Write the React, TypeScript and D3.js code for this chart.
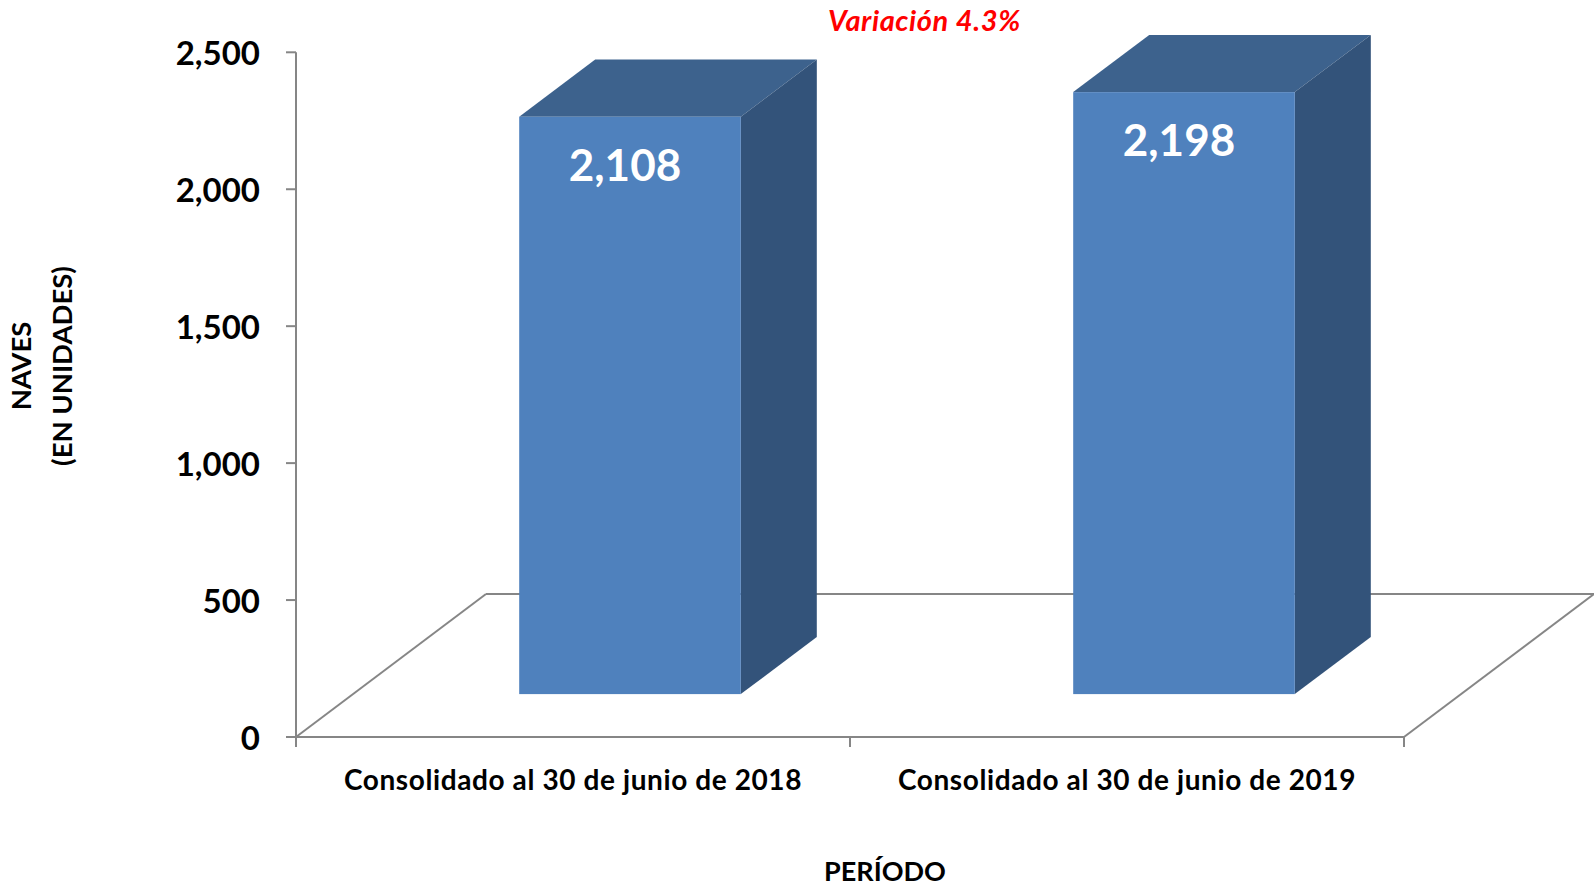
import React from "react";
import * as d3 from "d3";

const categories = ["Consolidado al 30 de junio de 2018", "Consolidado al 30 de junio de 2019"];
const values = [2108, 2198];
const valueLabels = ["2,108", "2,198"];
const yTicks = [0, 500, 1000, 1500, 2000, 2500];
const annotation = "Variación 4.3%";
const yTitle = ["NAVES", "(EN UNIDADES)"];
const xTitle = "PERÍODO";

const W = 1594;
const H = 885;
const FONT = "Lato, 'Open Sans', sans-serif";

export default function App() {
  const left = 296;
  const right = 1404;
  const bottom = 737;
  const top = 52.3;
  const depthX = 190;
  const depthY = 143;
  const d0 = 0.3;
  const d1 = 0.7;

  const x = d3.scaleBand<string>().domain(categories).range([left, right]).paddingInner(0).paddingOuter(0);
  const y = d3.scaleLinear().domain([0, 2500]).range([bottom, top]);
  const bw = x.bandwidth() * 0.4;
  const fmt = d3.format(",");

  const axisColor = "#868686";

  return (
    <svg width={W} height={H} style={{ position: "absolute", left: 0, top: 0, background: "#fff" }}>
      {/* floor */}
      <g stroke={axisColor} strokeWidth={2} fill="none">
        <line x1={left + depthX} y1={bottom - depthY} x2={right + depthX} y2={bottom - depthY} />
        <line x1={left} y1={bottom} x2={left + depthX} y2={bottom - depthY} />
        <line x1={right} y1={bottom} x2={right + depthX} y2={bottom - depthY} />
        <line x1={left} y1={bottom} x2={right} y2={bottom} />
        <line x1={left} y1={bottom} x2={left} y2={top} />
        {yTicks.map((t) => (
          <line key={t} x1={left - 10} x2={left} y1={y(t)} y2={y(t)} />
        ))}
        {[...categories.map((c) => x(c)!), right].map((px, i) => (
          <line key={i} x1={px} x2={px} y1={bottom} y2={bottom + 10} />
        ))}
      </g>
      {/* y tick labels */}
      {yTicks.map((t) => (
        <text key={t} x={left - 36} y={y(t)} textAnchor="end" dominantBaseline="central"
          fontFamily={FONT} fontWeight="bold" fontSize={33} fill="#000">{fmt(t)}</text>
      ))}
      {/* bars */}
      {categories.map((c, i) => {
        const cx = x(c)! + x.bandwidth() / 2;
        const fx0 = cx - bw / 2 + d0 * depthX;
        const fx1 = fx0 + bw;
        const fyTop = y(values[i]) - d0 * depthY;
        const fyBot = y(0) - d0 * depthY;
        const ddx = (d1 - d0) * depthX;
        const ddy = (d1 - d0) * depthY;
        return (
          <g key={c}>
            <polygon points={`${fx0},${fyTop} ${fx0 + ddx},${fyTop - ddy} ${fx1 + ddx},${fyTop - ddy} ${fx1},${fyTop}`} fill="#3D628D" />
            <polygon points={`${fx1},${fyTop} ${fx1 + ddx},${fyTop - ddy} ${fx1 + ddx},${fyBot - ddy} ${fx1},${fyBot}`} fill="#33537A" />
            <rect x={fx0} y={fyTop} width={bw} height={fyBot - fyTop} fill="#4F81BD" />
            <text x={(fx0 + fx1) / 2 - 5} y={fyTop + 47} textAnchor="middle" dominantBaseline="central"
              fontFamily={FONT} fontWeight="bold" fontSize={44} fill="#fff">{valueLabels[i]}</text>
          </g>
        );
      })}
      {/* category labels */}
      {categories.map((c) => (
        <text key={c} x={x(c)! + x.bandwidth() / 2} y={779} textAnchor="middle" dominantBaseline="central"
          fontFamily={FONT} fontWeight="bold" fontSize={28} letterSpacing={0.6} fill="#000">{c}</text>
      ))}
      <text x={885} y={870} textAnchor="middle" dominantBaseline="central" fontFamily={FONT} fontWeight="bold" fontSize={27} fill="#000">{xTitle}</text>
      <text x={924.5} y={19} textAnchor="middle" dominantBaseline="central" fontFamily={FONT} fontWeight="bold" fontStyle="italic" fontSize={29} letterSpacing={0.6} fill="#FF0000">{annotation}</text>
      {yTitle.map((t, i) => (
        <text key={t} transform={`translate(${20.5 + i * 40.5},366) rotate(-90)`} textAnchor="middle" dominantBaseline="central"
          fontFamily={FONT} fontWeight="bold" fontSize={27.5} fill="#000">{t}</text>
      ))}
    </svg>
  );
}
